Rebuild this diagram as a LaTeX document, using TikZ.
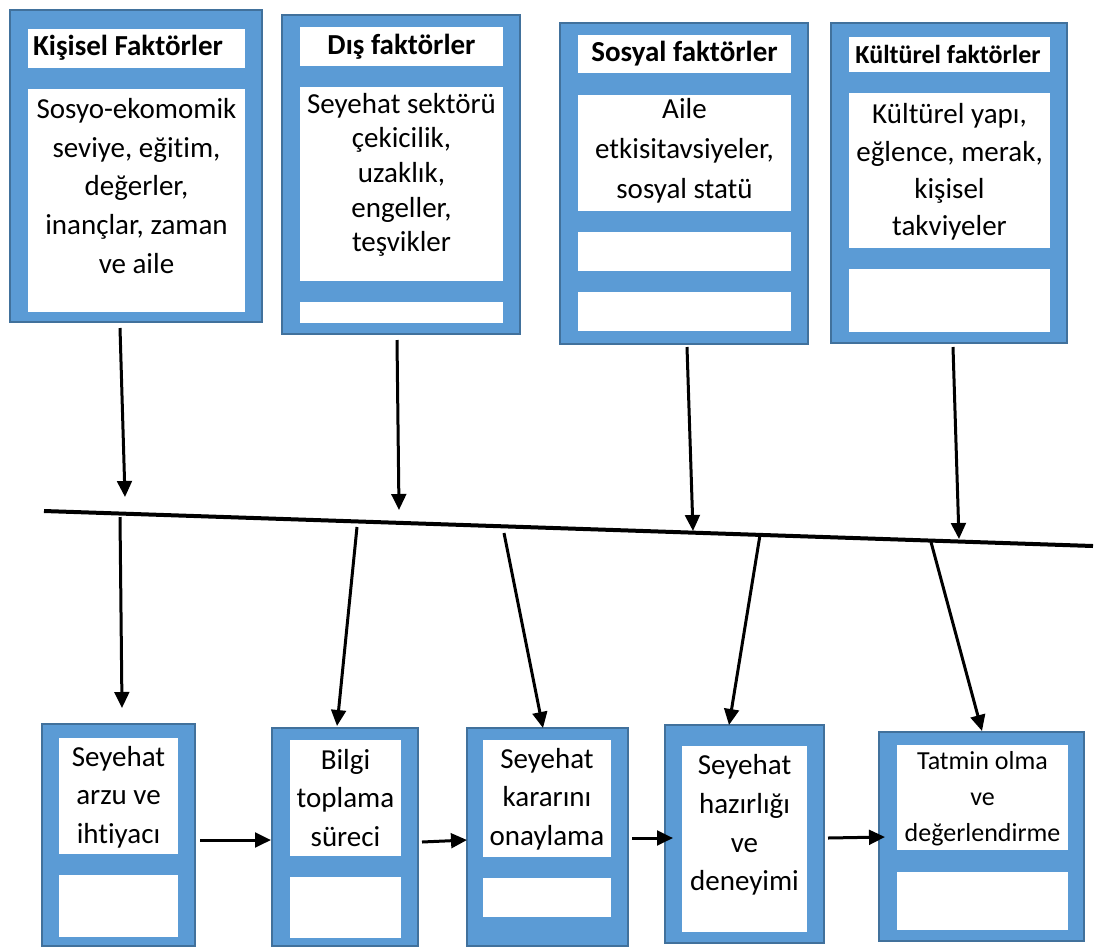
\documentclass[tikz,border=0pt]{standalone}
\usepackage{fontspec}
\setmainfont{Carlito}[Ligatures={NoCommon}]
\usetikzlibrary{fit,arrows.meta}
\definecolor{boxblue}{HTML}{5B9BD5}
\definecolor{boxedge}{HTML}{41719C}
\tikzset{
  outerbox/.style={draw=boxedge, line width=1.5pt, fill=boxblue, inner sep=0pt},
  innerbox/.style={fill=white, draw=none, inner sep=0pt},
  bodytxt/.style={align=center, inner sep=0pt, font=\fontsize{21.75pt}{#1}\selectfont},
  bodytxt/.default=29pt,
  ttltxt/.style={align=center, inner sep=0pt, font=\fontsize{#1}{26pt}\selectfont\bfseries},
  ttltxt/.default=21.75pt,
  arr/.style={line width=2.25pt, -{Triangle[length=12pt,width=11pt]}},
  mainline/.style={line width=3pt}
}
\begin{document}
\begin{tikzpicture}[x=0.75pt,y=-0.75pt]
\useasboundingbox[fill=white] (0,0) rectangle (1110,947);

% ---- top boxes ----
\node[outerbox, fit={(10,10)(262,322)}] (k1) {};
\node[innerbox, fit={(28,29)(245,68)}] (k1a) {};
\node[innerbox, fit={(28,89)(245,312)}] (k1b) {};
\node[ttltxt] (k1t) at (128,48) {Kişisel Faktörler};
\node[bodytxt] (k1x) at (136.5,186) {Sosyo-ekomomik\\seviye, eğitim,\\değerler,\\inançlar, zaman\\ve aile};

\node[outerbox, fit={(282,15)(520,334)}] (k2) {};
\node[innerbox, fit={(300,27)(503,66)}] (k2a) {};
\node[innerbox, fit={(300,87)(503,281)}] (k2b) {};
\node[innerbox, fit={(300,302)(503,323)}] (k2c) {};
\node[ttltxt] (k2t) at (401.5,47) {Dış faktörler};
\node[bodytxt=26pt] (k2x) at (401.5,175) {Seyehat sektörü\\çekicilik,\\uzaklık,\\engeller,\\teşvikler};

\node[outerbox, fit={(560,23)(808,344)}] (k3) {};
\node[innerbox, fit={(578,35)(791,73)}] (k3a) {};
\node[innerbox, fit={(578,95)(791,211)}] (k3b) {};
\node[innerbox, fit={(578,232)(791,271)}] (k3c) {};
\node[innerbox, fit={(578,292)(791,331)}] (k3d) {};
\node[ttltxt] (k3t) at (684.5,54) {Sosyal faktörler};
\node[bodytxt=30pt] (k3x) at (684.5,151) {Aile\\etkisitavsiyeler,\\sosyal statü};

\node[outerbox, fit={(831,23)(1067,343)}] (k4) {};
\node[innerbox, fit={(849,37)(1050,72)}] (k4a) {};
\node[innerbox, fit={(849,93)(1050,248)}] (k4b) {};
\node[innerbox, fit={(849,269)(1050,332)}] (k4c) {};
\node[ttltxt=19.5pt] (k4t) at (948,54) {Kültürel faktörler};
\node[bodytxt=28pt] (k4x) at (949.5,172) {Kültürel yapı,\\eğlence, merak,\\kişisel\\takviyeler};

% ---- bottom boxes ----
\node[outerbox, fit={(42,724)(195,946)}] (b1) {};
\node[innerbox, fit={(59,738)(178,854)}] (b1a) {};
\node[innerbox, fit={(59,875)(178,937)}] (b1b) {};
\node[bodytxt] (b1x) at (118.5,797) {Seyehat\\arzu ve\\ihtiyacı};

\node[outerbox, fit={(272,728)(418,946)}] (b2) {};
\node[innerbox, fit={(290,740)(401,856)}] (b2a) {};
\node[innerbox, fit={(290,877)(401,938)}] (b2b) {};
\node[bodytxt] (b2x) at (345.5,798) {Bilgi\\toplama\\süreci};

\node[outerbox, fit={(467,728)(628,946)}] (b3) {};
\node[innerbox, fit={(483,740)(611,857)}] (b3a) {};
\node[innerbox, fit={(483,878)(611,917)}] (b3b) {};
\node[bodytxt] (b3x) at (547,799) {Seyehat\\kararını\\onaylama};

\node[outerbox, fit={(665,725)(824,943)}] (b4) {};
\node[innerbox, fit={(682,746)(807,932)}] (b4a) {};
\node[bodytxt] (b4x) at (744.5,825) {Seyehat\\hazırlığı\\ve\\deneyimi};

\node[outerbox, fit={(879,732)(1084,941)}] (b5) {};
\node[innerbox, fit={(897,745)(1068,850)}] (b5a) {};
\node[innerbox, fit={(897,872)(1068,930)}] (b5b) {};
\node[bodytxt=27pt, font=\fontsize{19.5pt}{27pt}\selectfont] (b5x) at (982.5,799) {Tatmin olma\\ve\\değerlendirme};

% ---- main line ----
\coordinate (L1) at (44,511);
\coordinate (L2) at (1093,546);
\draw[mainline] (L1) -- (L2);

% ---- arrows from factor boxes to line ----
\coordinate (t1s) at (120,328); \coordinate (t1e) at (125,497);
\coordinate (t2s) at (397,340); \coordinate (t2e) at (399,510);
\coordinate (t3s) at (687,347); \coordinate (t3e) at (693,531);
\coordinate (t4s) at (953,347); \coordinate (t4e) at (959,539);
\draw[arr] (t1s) -- (t1e);
\draw[arr] (t2s) -- (t2e);
\draw[arr] (t3s) -- (t3e);
\draw[arr] (t4s) -- (t4e);

% ---- arrows from line to process boxes ----
\coordinate (d1s) at (120,517); \coordinate (d1e) at (122,708);
\coordinate (d2s) at (357,527); \coordinate (d2e) at (337,726);
\coordinate (d3s) at (504,533); \coordinate (d3e) at (543,728);
\coordinate (d4s) at (760,535); \coordinate (d4e) at (729,725);
\coordinate (d5s) at (931,542); \coordinate (d5e) at (982,731);
\draw[arr] (d1s) -- (d1e);
\draw[arr] (d2s) -- (d2e);
\draw[arr] (d3s) -- (d3e);
\draw[arr] (d4s) -- (d4e);
\draw[arr] (d5s) -- (d5e);

% ---- process arrows ----
\coordinate (h1s) at (200,840);
\coordinate (h2s) at (422,842);
\coordinate (h3s) at (632,838);
\coordinate (h4s) at (828,838);
\draw[arr] (h1s) -- (h1s -| b2.west);
\draw[arr] (h2s) -- (467,840);
\draw[arr] (h3s) -- (673,838);
\draw[arr] (h4s) -- (885,837);
\end{tikzpicture}
\end{document}
